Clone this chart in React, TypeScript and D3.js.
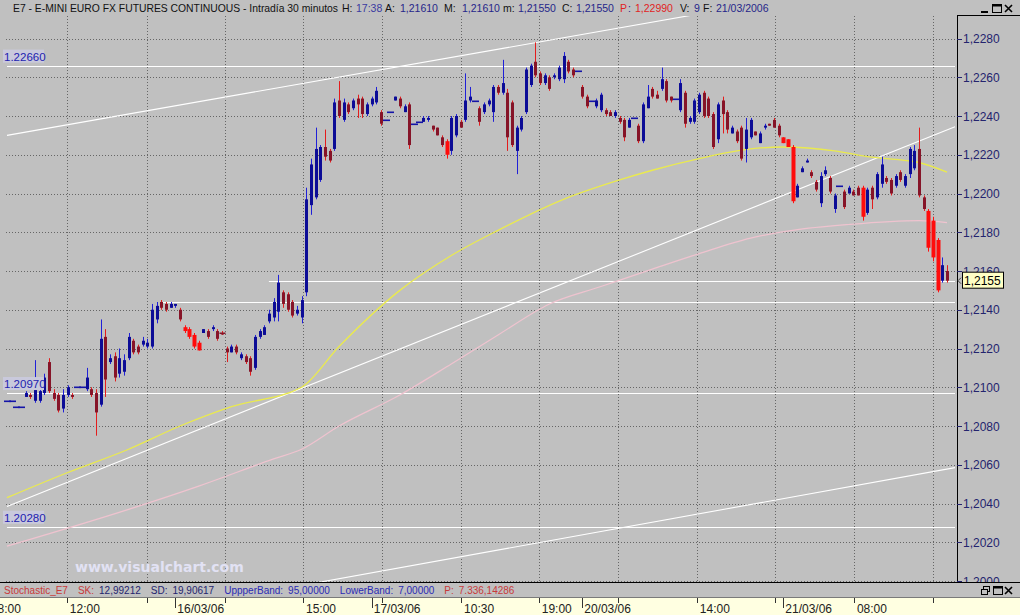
import React from 'react'
import * as d3 from 'd3'

// quotes in pips over 1,2000 : [open, high, low, close], one array per session
const bars15 = [
  [93, 93, 93, 93], [93, 93, 93, 93], [90, 90, 90, 90], [90, 90, 90, 90], [95, 98, 95, 97],
  [96, 97, 94, 95], [93, 114, 92, 99], [93, 99, 92, 98], [97, 107, 96, 105], [113, 115, 97, 98],
  [97, 99, 93, 94], [96, 97, 87, 88], [89, 99, 87, 96], [96, 101, 95, 100], [96, 97, 94, 95],
  [100, 100, 100, 100], [100, 100, 100, 100], [99, 110, 98, 105], [99, 100, 95, 96], [97, 99, 75, 87],
  [91, 135, 90, 125], [126, 130, 95, 104], [113, 117, 112, 115], [116, 118, 103, 105], [107, 120, 105, 115],
  [108, 117, 106, 114], [115, 128, 114, 126], [124, 125, 117, 118], [121, 122, 117, 118], [122, 126, 121, 124],
  [121, 125, 120, 123], [121, 143, 120, 140], [135, 144, 133, 142], [144, 145, 140, 141], [143, 144, 139, 140],
  [141, 144, 141, 143],
]
const bars16 = [
  [142, 143, 141, 143], [140, 141, 134, 135], [131, 132, 128, 129], [130, 131, 125, 126], [127, 128, 120, 121],
  [123, 124, 119, 119], [128, 130, 128, 130], [129, 130, 125, 126], [130, 132, 129, 131], [129, 130, 124, 125],
  [128, 129, 127, 128], [120, 121, 113, 118], [118, 122, 118, 121], [121, 122, 117, 118], [115, 118, 114, 117],
  [116, 117, 112, 113], [115, 116, 106, 108], [110, 127, 109, 126], [126, 130, 125, 129], [127, 132, 127, 131],
  [134, 140, 133, 138], [136, 146, 134, 144], [139, 158, 134, 154], [149, 150, 141, 143], [148, 149, 139, 140],
  [144, 145, 136, 137], [138, 142, 137, 140], [136, 147, 133, 145], [149, 203, 147, 197], [194, 218, 189, 215],
  [198, 234, 197, 223], [207, 225, 206, 224], [224, 233, 217, 219], [222, 223, 216, 217], [223, 249, 222, 247],
  [248, 258, 239, 240], [238, 249, 237, 247], [246, 247, 241, 242], [244, 249, 243, 248], [249, 251, 239, 246],
  [249, 250, 239, 241], [241, 247, 240, 246],
]
const bars17 = [
  [246, 250, 245, 249], [247, 255, 246, 253], [242, 243, 235, 236], [238, 238, 238, 238], [242, 242, 242, 242],
  [248, 250, 248, 250], [249, 250, 244, 245], [242, 246, 242, 245], [246, 247, 223, 225], [236, 236, 236, 236],
  [237, 237, 237, 237], [237, 240, 237, 239], [238, 240, 237, 239], [235, 235, 232, 233], [234, 234, 230, 230],
  [229, 230, 224, 225], [227, 228, 218, 220], [222, 240, 220, 239], [230, 241, 229, 240], [237, 238, 234, 234],
  [238, 262, 237, 248], [248, 255, 247, 250], [248, 248, 248, 248], [244, 245, 235, 237], [242, 247, 241, 246],
  [246, 249, 245, 248], [242, 256, 237, 255], [255, 256, 251, 252], [252, 269, 251, 257], [252, 254, 222, 229],
  [247, 248, 224, 225], [222, 235, 210, 234], [233, 240, 232, 239], [242, 265, 241, 264], [256, 267, 255, 266],
  [268, 278, 260, 261], [262, 263, 256, 257], [257, 262, 256, 261], [260, 261, 253, 254], [260, 262, 259, 261],
  [259, 266, 258, 265], [259, 273, 257, 271], [268, 269, 262, 263], [264, 265, 260, 261], [263, 263, 263, 263],
]
const bars20 = [
  [255, 256, 249, 250], [250, 251, 244, 245], [248, 248, 248, 248], [245, 249, 244, 248], [243, 252, 242, 251],
  [243, 244, 240, 241], [242, 243, 240, 240], [240, 243, 239, 242], [239, 240, 236, 237], [238, 239, 227, 229],
  [234, 239, 234, 238], [239, 239, 239, 239], [235, 236, 226, 227], [227, 247, 226, 246], [244, 256, 244, 250],
  [254, 255, 249, 250], [251, 253, 249, 249], [254, 265, 253, 259], [258, 259, 247, 248], [250, 250, 247, 248],
  [249, 249, 249, 249], [243, 259, 242, 257], [252, 253, 234, 236], [237, 240, 236, 239], [237, 249, 236, 248],
  [242, 252, 241, 251], [252, 253, 239, 240], [249, 250, 239, 240], [241, 242, 223, 224], [228, 247, 226, 246],
  [248, 250, 231, 241], [242, 243, 231, 233], [231, 235, 231, 234], [232, 233, 226, 227], [234, 235, 217, 218],
  [223, 239, 216, 233], [229, 239, 228, 238], [232, 232, 230, 230], [226, 232, 226, 231], [234, 236, 233, 235],
  [236, 236, 235, 235], [238, 239, 234, 234], [235, 236, 229, 230],
]
const bars21 = [
  [229, 229, 226, 226], [228, 228, 224, 224], [224, 225, 195, 196], [198, 205, 198, 204], [211, 214, 211, 213],
  [216, 218, 216, 217], [211, 212, 208, 209], [206, 207, 201, 202], [195, 211, 193, 209], [210, 214, 209, 212],
  [208, 209, 200, 201], [192, 200, 190, 199], [204, 204, 204, 204], [201, 202, 192, 193], [200, 204, 200, 203],
  [201, 202, 199, 199], [203, 204, 199, 199], [203, 204, 186, 188], [190, 203, 189, 202], [203, 204, 192, 197],
  [198, 211, 197, 210], [205, 219, 203, 215], [208, 209, 205, 206], [207, 208, 199, 200], [204, 210, 203, 209],
  [211, 212, 206, 207], [204, 210, 203, 209], [210, 224, 208, 223], [213, 225, 212, 222], [223, 234, 198, 199],
  [198, 199, 191, 192], [191, 192, 170, 172], [186, 188, 165, 167], [176, 177, 149, 150], [155, 167, 154, 163],
  [160, 163, 154, 155],
]
// bars painted bright red by the system
const signalBars = [38, 39, 40, 41, 94, 166, 167, 168, 183, 197, 198, 199]

// moving averages [bar, pips]
const maYellow = [
  [0, 43], [13, 56], [26, 68], [37, 80], [48, 90], [63, 100], [71, 121], [84, 150], [95, 168], [105, 181],
  [119, 197], [131, 207], [138, 212], [148, 218], [159, 223], [166, 224], [177, 222], [184, 219], [195, 216], [201, 211],
]
const maPink = [
  [0, 18], [26, 37], [41, 49], [57, 63], [63, 68], [71, 80], [84, 96], [95, 112], [105, 127], [116, 143],
  [127, 152], [138, 161], [148, 169], [159, 177], [168, 181], [180, 184], [195, 186], [201, 185],
]
// trend lines, two points each [bar, pips]
const trendLines = [
  [[0, 230], [144, 291]],
  [[0, 38.5], [202.7, 234.5]],
  [[67.6, -0.3], [202.7, 58.5]],
]
// horizontal levels
const levelPips = [266, 97, 28, 144, 155]
const levelFrom = [0, 0, 0, 33, 56]
const levelLabels = ['1.22660', '1.20970', '1.20280', '', '']

const priceTicks = [1.2, 1.202, 1.204, 1.206, 1.208, 1.21, 1.212, 1.214, 1.216, 1.218, 1.22, 1.222, 1.224, 1.226, 1.228]
const timeTickAt = [-4.1, 12.8, 29.9, 46.6, 63.3, 80.2, 97.1, 113.7, 130.6, 147.5, 164.2, 181.1, 198]
const timeTickLabels = ['08:00', '12:00', '', '', '15:00', '', '10:30', '19:00', '', '14:00', '', '08:00', '']
const dayLabels = ['16/03/06', '17/03/06', '20/03/06', '21/03/06']
const lastPrice = 1.2155

// stochastic header: text, colour, gap before it
const stochTexts = ['Stochastic_E7', 'SK:', '12,99212', 'SD:', '19,90617', 'UppperBand:', '95,00000', 'LowerBand:', '7,00000', 'P:', '7.336,14286']
const stochColors = ['#c83a3a', '#c83a3a', '#24246e', '#24246e', '#24246e', '#2a2ab4', '#2a2ab4', '#2a2ab4', '#2a2ab4', '#c83a3a', '#c83a3a']
const stochGap = [0, 10, 5, 10, 5, 10, 5, 10, 5, 10, 5]

const allBars = [...bars15, ...bars16, ...bars17, ...bars20, ...bars21]
const dayStarts = [bars15.length, bars15.length + bars16.length,
  bars15.length + bars16.length + bars17.length,
  bars15.length + bars16.length + bars17.length + bars20.length]
const toPrice = (p: number) => 1.2 + p / 10000
const fmtAxis = (v: number) => d3.format('.4f')(v).replace('.', ',')

const FONT = 'Liberation Sans, Arial, sans-serif'
const NAVY = '#24246e'

export default function App() {
  const width = 1020
  const height = 615
  const plotR = 957
  const plotT = 16
  const plotB = 582

  const x = d3.scaleLinear().domain([0, allBars.length - 1]).range([7, 947])
  const y = d3.scaleLinear().domain([1.2, 1.228]).range([581, 38.5])
  const yp = (p: number) => y(toPrice(p))

  const maLine = d3.line<number[]>().x(d => x(d[0])).y(d => yp(d[1])).curve(d3.curveMonotoneX)
  const xEnd = x.invert(955)

  const candles = allBars.map((b, i) => {
    const [o, h, l, c] = b
    const cx = Math.round(x(i)) + 0.5
    if (o === c && h === l) {
      return <rect key={i} x={cx - 3.5} y={Math.round(yp(o)) - 0.5} width={7} height={1.6} fill="#1414a8" />
    }
    const sig = signalBars.includes(i)
    const up = c > o
    const wick = sig ? '#ff1010' : up ? '#2020d8' : '#e41c1c'
    const body = sig ? '#ff0c0c' : up ? '#0c0c96' : '#861428'
    const bw = sig ? 4 : 3
    const top = Math.min(yp(o), yp(c))
    const bh = Math.max(1.5, Math.abs(yp(o) - yp(c)))
    return (
      <g key={i}>
        <line x1={cx} x2={cx} y1={yp(h)} y2={yp(l)} stroke={wick} strokeWidth={1} />
        <rect x={cx - bw / 2} y={top} width={bw} height={bh} fill={body} />
        {o === c && <rect x={cx - 3} y={top - 0.5} width={6} height={1.5} fill={body} />}
      </g>
    )
  })

  const trendPath = (seg: number[][]) => {
    const [a, b] = seg
    const slope = (b[1] - a[1]) / (b[0] - a[0])
    const i0 = Math.min(a[0], 0)
    const p0 = a[1] + slope * (i0 - a[0])
    const p1 = a[1] + slope * (xEnd - a[0])
    return `M${x(i0)},${yp(p0)}L${x(xEnd)},${yp(p1)}`
  }

  const gridX = timeTickAt.map(t => Math.round(x(t)) + 0.5)

  return (
    <svg width={width} height={height} style={{ position: 'absolute', left: 0, top: 0 }} fontFamily={FONT}>
      <defs>
        <clipPath id="plot"><rect x={0} y={plotT} width={plotR} height={plotB - plotT} /></clipPath>
        <clipPath id="above-box"><rect x={958} y={0} width={62} height={y(lastPrice) - 8} /></clipPath>
      </defs>
      <rect width={width} height={height} fill="#c0c0c0" />

      {/* grid */}
      <g stroke="#666" strokeDasharray="1,2" strokeWidth={1}>
        {priceTicks.map(t => (
          <line key={t} x1={6} x2={plotR} y1={Math.round(y(t)) + 0.5} y2={Math.round(y(t)) + 0.5} />
        ))}
        {gridX.filter(g => g > 2).map(g => (
          <line key={g} x1={g} x2={g} y1={plotT} y2={plotB} />
        ))}
      </g>

      <g clipPath="url(#plot)">
        {levelPips.map((p, k) => (
          <line key={k} x1={Math.max(6, x(levelFrom[k]))} x2={955} y1={Math.round(yp(p)) + 0.5} y2={Math.round(yp(p)) + 0.5}
            stroke="#ffffff" strokeWidth={1.2} />
        ))}
        {trendLines.map((s, k) => (
          <path key={k} d={trendPath(s)} stroke="#ffffff" strokeWidth={1.1} fill="none" />
        ))}
        <path d={maLine(maPink) || ''} stroke="#efc3cf" strokeWidth={1.2} fill="none" />
        <path d={maLine(maYellow) || ''} stroke="#eaea4e" strokeWidth={1.3} fill="none" />
        {candles}
      </g>

      {/* level labels */}
      {levelPips.map((p, k) => levelLabels[k] && (
        <g key={k}>
          <rect x={3} y={yp(p) - 16} width={41} height={13} fill="#c9c9dc" />
          <text x={4} y={yp(p) - 5} fontSize={11.5} fill="#2222b0">{levelLabels[k]}</text>
        </g>
      ))}

      <text x={75} y={572} fontSize={14} fontWeight="bold" fontFamily="DejaVu Sans, Verdana, sans-serif"
        fill="#e2e2f4">www.visualchart.com</text>

      {/* right axis */}
      <line x1={plotR + 0.5} x2={plotR + 0.5} y1={15} y2={plotB} stroke="#000" />
      <line x1={plotR} x2={width} y1={15.5} y2={15.5} stroke="#000" />
      {priceTicks.map(t => (
        <g key={t}>
          <line x1={plotR} x2={plotR + 5} y1={Math.round(y(t)) + 0.5} y2={Math.round(y(t)) + 0.5} stroke={NAVY} />
          {Math.abs(t - lastPrice) > 0.001 && (
            <text x={963} y={y(t) + 4.5} fontSize={12} fill={NAVY}>{fmtAxis(t)}</text>
          )}
        </g>
      ))}
      {/* label half hidden behind the last price box */}
      <text x={963} y={y(1.216) + 4.5} fontSize={12} fill={NAVY} clipPath="url(#above-box)">{fmtAxis(1.216)}</text>
      <path d={`M961,${y(lastPrice) - 3}L958,${y(lastPrice)}L961,${y(lastPrice) + 3}`} stroke="#404040" fill="none" />
      <rect x={962.5} y={y(lastPrice) - 8.5} width={41} height={16} fill="#ffffc4" stroke="#000" />
      <text x={964} y={y(lastPrice) + 4.5} fontSize={12} fill="#000">{fmtAxis(lastPrice)}</text>

      {/* title bar */}
      <rect x={0} y={0} width={plotR} height={15} fill="#c0c0c0" />
      <g fontSize={10.5} fill="#111">
        <text x={13} y={12} textLength={325} lengthAdjust="spacingAndGlyphs">E7 - E-MINI EURO FX FUTURES CONTINUOUS - Intradía 30 minutos</text>
        <text x={342} y={12}>H:</text>
        <text x={356} y={12} fill="#3a3aa0">17:38</text>
        <text x={385} y={12}>A:</text>
        <text x={400} y={12} fill="#26268a">1,21610</text>
        <text x={444} y={12}>M:</text>
        <text x={462} y={12} fill="#26268a">1,21610</text>
        <text x={503} y={12}>m:</text>
        <text x={518} y={12} fill="#26268a">1,21550</text>
        <text x={562} y={12}>C:</text>
        <text x={576} y={12} fill="#26268a">1,21550</text>
        <text x={620} y={12} fill="#e02424">P</text>
        <text x={628} y={12} fill="#26268a">:</text>
        <text x={635} y={12} fill="#e02424">1,22990</text>
        <text x={680} y={12}>V:</text>
        <text x={694} y={12} fill="#26268a">9</text>
        <text x={703} y={12}>F:</text>
        <text x={716} y={12} fill="#26268a">21/03/2006</text>
      </g>
      <g stroke="#000" fill="none">
        <line x1={981} x2={988} y1={12} y2={12} strokeWidth={2} />
        <rect x={992.5} y={4.5} width={9} height={8} />
        <line x1={992} x2={1002} y1={5.5} y2={5.5} strokeWidth={2} />
        <path d="M1005,5L1012,12M1012,5L1005,12" strokeWidth={1.6} />
      </g>

      {/* stochastic header */}
      <rect x={0} y={plotB} width={width} height={15} fill="#c0c0c0" />
      <line x1={0} x2={width} y1={plotB + 0.5} y2={plotB + 0.5} stroke="#000" />
      <text x={4} y={594} fontSize={10}>
        {stochTexts.map((s, k) => (
          <tspan key={k} dx={stochGap[k]} fill={stochColors[k]}>{s}</tspan>
        ))}
      </text>
      <g stroke="#000" fill="none">
        <rect x={983.5} y={586.5} width={6} height={5} />
        <rect x={981.5} y={589.5} width={6} height={5} fill="#c0c0c0" />
        <rect x={993.5} y={586.5} width={9} height={8} />
        <line x1={993} x2={1003} y1={587.5} y2={587.5} strokeWidth={2} />
        <path d="M1005,587L1012,594M1012,587L1005,594" strokeWidth={1.6} />
      </g>

      {/* time axis */}
      <rect x={0} y={597} width={width} height={18} fill="#ffffe1" />
      <line x1={0} x2={width} y1={597.5} y2={597.5} stroke="#7a7a7a" />
      {timeTickAt.map((t, k) => (
        <g key={k}>
          <line x1={gridX[k]} x2={gridX[k]} y1={598} y2={603} stroke="#333" />
          <text x={x(t) + 3} y={613} fontSize={12} fill="#222">{timeTickLabels[k]}</text>
        </g>
      ))}
      {dayStarts.map((d, k) => (
        <g key={k}>
          <line x1={Math.round(x(d)) + 0.5} x2={Math.round(x(d)) + 0.5} y1={598} y2={608} stroke="#333" />
          <text x={x(d) + 2} y={613} fontSize={12} fill="#222">{dayLabels[k]}</text>
        </g>
      ))}
    </svg>
  )
}
